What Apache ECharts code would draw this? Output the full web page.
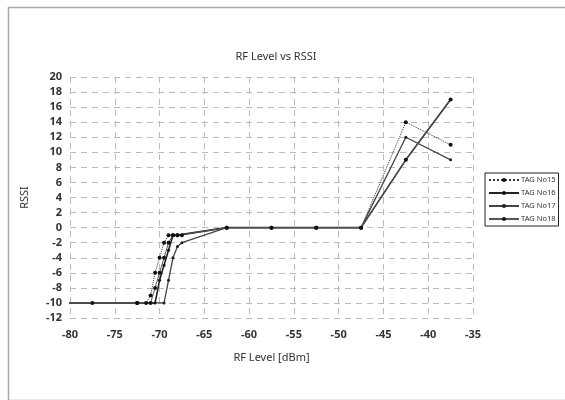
<!DOCTYPE html>
<html>
<head>
<meta charset="utf-8">
<script src="https://cdn.jsdelivr.net/npm/echarts@6/dist/echarts.min.js"></script>
<style>html,body{margin:0;padding:0;background:#fff;}#c{width:565px;height:400px;}</style>
</head>
<body>
<div id="c"></div>
<script>
var seriesNames = ['TAG No15', 'TAG No16', 'TAG No17', 'TAG No18'];
var xTicks = [-80, -75, -70, -65, -60, -55, -50, -45, -40, -35];
var yTicks = [-12, -10, -8, -6, -4, -2, 0, 2, 4, 6, 8, 10, 12, 14, 16, 18, 20];

var rf15 = [-82.5, -77.5, -72.5, -71.5, -71, -70.5, -70, -69.5, -69, -68.5, -68, -67.5, -62.5, -57.5, -52.5, -47.5, -42.5, -37.5];
var rssi15 = [-10, -10, -10, -10, -9, -6, -4, -2, -1, -1, -1, -1, 0, 0, 0, 0, 14, 11];

var rf16 = [-82.5, -72.5, -70.5, -70, -69.5, -69, -68.5, -68, -62.5, -57.5, -52.5, -47.5, -42.5, -37.5];
var rssi16 = [-10, -10, -10, -7, -5, -3, -1, -1, 0, 0, 0, 0, 9, 17];

var rf17 = [-82.5, -72.5, -69.5, -69, -68.5, -68, -67.5, -62.5, -57.5, -52.5, -47.5, -42.5, -37.5];
var rssi17 = [-10, -10, -10, -7, -4, -2.5, -2, 0, 0, 0, 0, 12, 9];

var rf18 = [-82.5, -72.5, -71, -70.5, -70, -69.5, -69, -68.5, -68, -62.5, -57.5, -52.5, -47.5, -42.5, -37.5];
var rssi18 = [-10, -10, -10, -8, -6, -4, -2, -1, -1, 0, 0, 0, 0, 9, 17];

function pairs(xs, ys) { return xs.map(function (x, i) { return [x, ys[i]]; }); }

var chart = echarts.init(document.getElementById('c'), null, {renderer: 'canvas'});
var font = 'Noto Sans, DejaVu Sans, sans-serif';
chart.setOption({
  animation: false,
  backgroundColor: '#fff',
  graphic: [{
    type: 'rect', left: 6, top: 5, shape: {width: 620, height: 393},
    style: {fill: 'none', stroke: '#aaa', lineWidth: 1.5}, silent: true
  }],
  title: {
    text: 'RF Level vs RSSI', left: 271, top: 46, textAlign: 'center',
    textStyle: {fontSize: 11, fontWeight: 'normal', color: '#333', fontFamily: font}
  },
  legend: {
    data: seriesNames, orient: 'vertical', left: 485, top: 173,
    itemWidth: 30, itemHeight: 5, itemGap: 5,
    borderColor: '#222', borderWidth: 1, padding: [3, 3, 3, 3],
    textStyle: {fontSize: 7.5, color: '#333', fontFamily: font, padding: [0, 0, 0, -3]}
  },
  grid: {left: 70, right: 92, top: 77, bottom: 82},
  xAxis: {
    type: 'value', min: xTicks[0], max: xTicks[xTicks.length - 1], interval: 5,
    name: 'RF Level [dBm]', nameLocation: 'middle', nameGap: 34,
    nameTextStyle: {fontSize: 11, color: '#333', fontFamily: font},
    axisLine: {show: false}, axisTick: {show: false},
    axisLabel: {fontSize: 11, color: '#333', margin: 11, fontFamily: font, fontWeight: 'bold'},
    splitLine: {show: true, lineStyle: {type: [6, 5], color: '#bbb', width: 1}}
  },
  yAxis: {
    type: 'value', min: yTicks[0], max: yTicks[yTicks.length - 1], interval: 2,
    name: 'RSSI', nameLocation: 'middle', nameGap: 40,
    nameTextStyle: {fontSize: 11, color: '#333', fontFamily: font},
    axisLine: {show: false}, axisTick: {show: false},
    axisLabel: {fontSize: 11, color: '#333', margin: 8, fontFamily: font, fontWeight: 'bold'},
    splitLine: {show: true, lineStyle: {type: [6, 5], color: '#bbb', width: 1}}
  },
  series: [
    {name: seriesNames[0], type: 'line', data: pairs(rf15, rssi15), symbol: 'circle', symbolSize: 4,
      itemStyle: {color: '#111'}, lineStyle: {color: '#333', width: 1, type: 'dotted'}, clip: true},
    {name: seriesNames[1], type: 'line', data: pairs(rf16, rssi16), symbol: 'circle', symbolSize: 3,
      itemStyle: {color: '#111'}, lineStyle: {color: '#222', width: 1.6}, clip: true},
    {name: seriesNames[2], type: 'line', data: pairs(rf17, rssi17), symbol: 'circle', symbolSize: 3,
      itemStyle: {color: '#222'}, lineStyle: {color: '#444', width: 1.3}, clip: true},
    {name: seriesNames[3], type: 'line', data: pairs(rf18, rssi18), symbol: 'circle', symbolSize: 4,
      itemStyle: {color: '#111'}, lineStyle: {color: '#555', width: 1}, clip: true}
  ]
});
</script>
</body>
</html>
